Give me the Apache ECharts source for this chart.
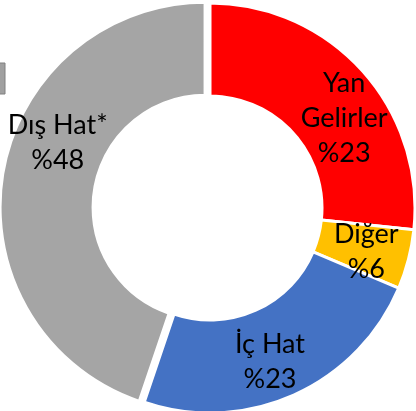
<!DOCTYPE html>
<html>
<head>
<meta charset="utf-8">
<script src="https://cdn.jsdelivr.net/npm/echarts@6/dist/echarts.min.js"></script>
<style>
  html, body { margin: 0; padding: 0; background: #fff; }
  #chart { width: 416px; height: 411px; }
</style>
</head>
<body>
<div id="chart"></div>
<script>
const names = ['Yan Gelirler', 'Diğer', 'İç Hat', 'Dış Hat*']
const values = [26.7, 4.7, 23.8, 44.8]
// percentages printed on the slices
const pctLabels = ['%23', '%6', '%23', '%48']
const colors = ['#ff0000', '#ffc000', '#4472c4', '#a5a5a5']

// nudges so the labels sit where the original has them
const labelShift = [[14, 18], [0, 3], [-6, 6], [12, -38]]

const myChart = echarts.init(document.getElementById('chart'))
const option = {
  animation: false,
  graphic: [
    {
      type: 'rect',
      shape: { x: -2, y: 63, width: 7, height: 31 },
      style: { fill: '#a0a0a0', stroke: '#808080', lineWidth: 1 },
    },
  ],
  series: [
    {
      type: 'pie',
      center: [210, 208],
      radius: [112, 205],
      startAngle: 90,
      clockwise: true,
      selectedMode: 'single',
      selectedOffset: 5,
      silent: true,
      itemStyle: {
        borderColor: '#fff',
        borderWidth: 3,
      },
      label: {
        show: true,
        position: 'inside',
        fontFamily: 'Lato',
        fontSize: 27,
        lineHeight: 35,
        color: '#000',
        formatter: function (p) {
          const n = p.name === 'Yan Gelirler' ? 'Yan\nGelirler' : p.name
          return n + '\n' + pctLabels[p.dataIndex]
        },
      },
      labelLayout: function (params) {
        const s = labelShift[params.dataIndex]
        return { dx: s[0], dy: s[1] }
      },
      labelLine: { show: false },
      emphasis: { disabled: true },
      data: names.map((n, i) => ({
        name: n,
        value: values[i],
        selected: i === 3,
        itemStyle: { color: colors[i] },
      })),
    },
  ],
}
myChart.setOption(option)
</script>
</body>
</html>
